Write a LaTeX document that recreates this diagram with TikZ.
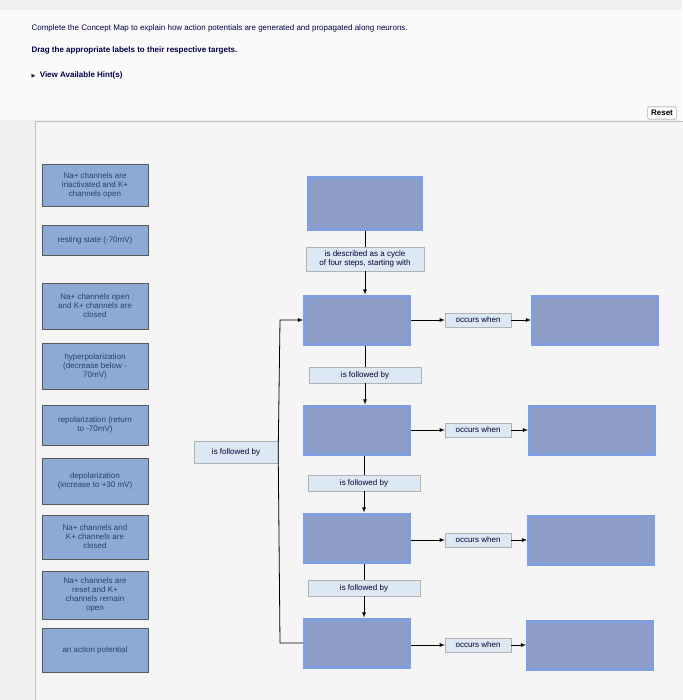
\documentclass[tikz,border=0pt]{standalone}
\usepackage{fontspec}
\setmainfont{Liberation Sans}
\newfontfamily\djv{DejaVu Sans}
\definecolor{lblfill}{HTML}{8DAAD6}
\definecolor{lbltext}{HTML}{2A3F6E}
\definecolor{tgtborder}{HTML}{7F9FE0}
\definecolor{tgtfill}{HTML}{8E9CC8}
\definecolor{lnkfill}{HTML}{DDE8F5}
\begin{document}
\begin{tikzpicture}[x=1pt,y=-1pt,
  lbl/.style={draw=gray!70!black,fill=lblfill,text=lbltext,font=\fontsize{8}{9}\selectfont,align=center,minimum width=106pt,inner sep=2pt},
  tgt/.style={draw=tgtborder,line width=3pt,fill=tgtfill,minimum width=105pt,minimum height=48pt},
  lnk/.style={draw=gray!60,fill=lnkfill,font=\fontsize{8}{9}\selectfont,align=center,inner sep=4pt,text=blue!20!black},
  ar/.style={-latex,thick}]
\useasboundingbox (0,0) rectangle (682,700);
\fill[gray!12] (0,0) rectangle (682,700);
\fill[white!96!gray] (0,10) rectangle (682,120);
\node[anchor=west,font=\fontsize{8}{9}\selectfont,text=blue!30!black] at (28,28) {Complete the Concept Map to explain how action potentials are generated and propagated along neurons.};
\node[anchor=west,font=\bfseries\fontsize{8}{9}\selectfont,text=blue!30!black] at (28,50) {Drag the appropriate labels to their respective targets.};
\node[anchor=west,font=\bfseries\fontsize{8}{9}\selectfont,text=blue!30!black] at (28,75) {{\djv\tiny▶}\ \ View Available Hint(s)};
\node[draw=gray,fill=white,font=\bfseries\fontsize{8}{9}\selectfont,rounded corners=1pt] (reset) at (662,113) {Reset};
\draw[gray!50,line width=1pt,fill=gray!8] (35,122) rectangle (690,705);
\foreach \y/\h/\t [count=\i] in {185/42/{Na+ channels are\\inactivated and K+\\channels open},240/30/{resting state (-70mV)},306/46/{Na+ channels open\\and K+ channels are\\closed},366/46/{hyperpolarization\\(decrease below -\\70mV)},425/40/{repolarization (return\\to -70mV)},481/46/{depolarization\\(increase to +30 mV)},537/44/{Na+ channels and\\K+ channels are\\closed},595/48/{Na+ channels are\\reset and K+\\channels remain\\open},650/44/{an action potential}}
  \node[lbl,minimum height=\h pt] (l\i) at (95,\y) {\t};
\node[tgt,minimum width=113pt,minimum height=52pt] (top) at (365,204) {};
\node[lnk,minimum width=118pt] (desc) at (365,259) {is described as a cycle\\of four steps, starting with};
\foreach \y/\k in {320/1,430/2,538/3,643/4}{
  \node[tgt] (s\k) at (357,\y) {};
}
\foreach \y/\x/\k in {320/595/1,430/592/2,540/591/3,645/590/4}{
  \node[tgt,minimum width=125pt] (o\k) at (\x,\y) {};
  \node[lnk,minimum width=66pt] (w\k) at (478,\y) {occurs when};
  \draw[ar] (s\k.east |- w\k) -- (w\k);
  \draw[ar] (w\k) -- (o\k.west |- w\k);
}
\node[lnk,minimum width=112pt] (f1) at (365,375) {is followed by};
\node[lnk,minimum width=112pt] (f2) at (364,483) {is followed by};
\node[lnk,minimum width=112pt] (f3) at (364,588) {is followed by};
\draw[thick] (top) -- (desc);
\draw[ar] (desc) -- (desc |- s1.north);
\draw[thick] (f1 |- s1.south) -- (f1); \draw[ar] (f1) -- (f1 |- s2.north);
\draw[thick] (f2 |- s2.south) -- (f2); \draw[ar] (f2) -- (f2 |- s3.north);
\draw[thick] (f3 |- s3.south) -- (f3); \draw[ar] (f3) -- (f3 |- s4.north);
\node[lnk,minimum width=84pt,minimum height=22pt] (loop) at (236,452) {is followed by};
\coordinate (c1) at (280,320);
\coordinate (c2) at (280,643);
\draw[thick] (s4.west) -- (c2) -- (loop.east);
\draw[ar] (loop.east) -- (c1) -- (s1.west);
\end{tikzpicture}
\end{document}
